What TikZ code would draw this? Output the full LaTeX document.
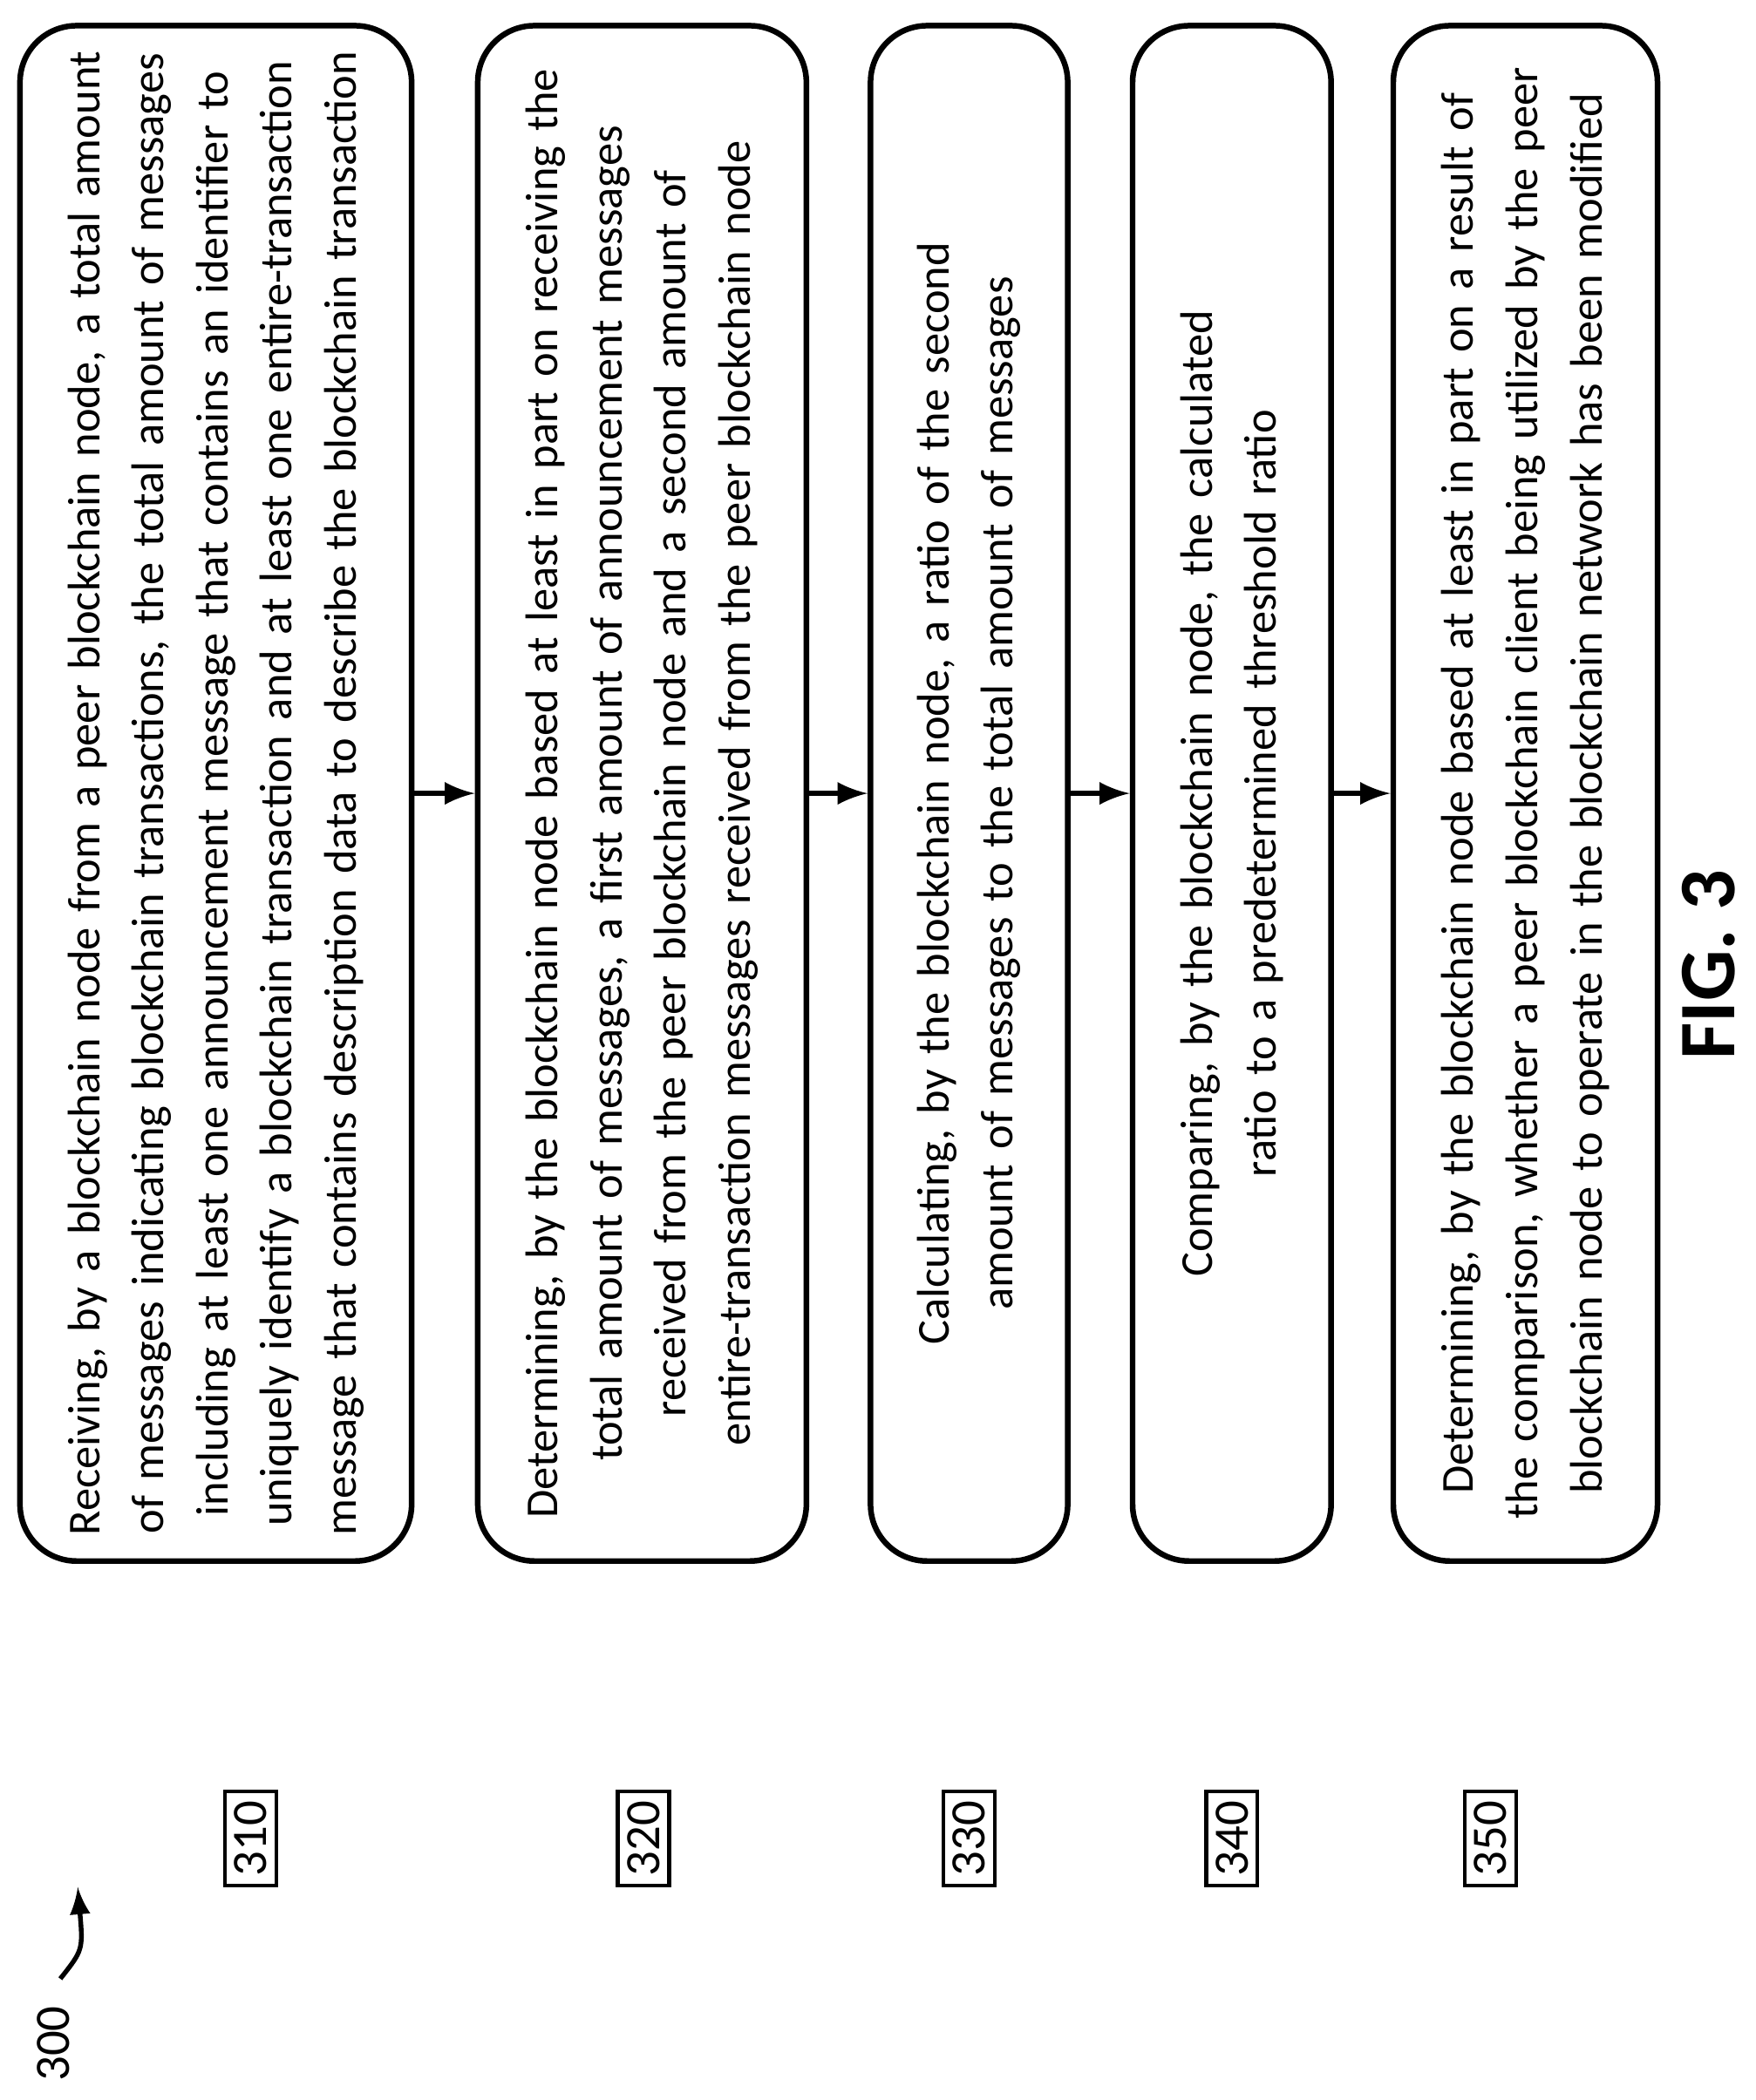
\documentclass[tikz,border=0pt]{standalone}
\usepackage{fontspec}
\setmainfont{Carlito}
\usetikzlibrary{positioning}
\hyphenpenalty=10000
\exhyphenpenalty=10000
\tikzset{
  stepbox/.style={draw, line width=1.2, rounded corners=12, rotate=90,
    minimum width=11.45cm, align=center, inner sep=2pt,
    font=\fontsize{9.7}{13.6}\selectfont},
  refbox/.style={draw, line width=0.8, rotate=90, inner sep=2pt,
    font=\fontsize{10.5}{13.6}\selectfont},
  flow/.style={line width=1.2, -latex}
}
\begin{document}
\begin{tikzpicture}[x=0.01cm,y=-0.01cm]
\useasboundingbox (0,0) rectangle (1310,1567);

\node[stepbox, minimum height=2.92cm, text width=11.1cm] (s310) at (161,592)
  {Receiving, by a blockchain node from a peer blockchain node, a total amount of messages indicating blockchain transactions, the total amount of messages including at least one announcement message that contains an identifier to uniquely identify a blockchain transaction and at least one entire-transaction message that contains description data to describe the blockchain transaction};
\node[stepbox, minimum height=2.45cm, text width=11.1cm] (s320) at (479,592)
  {Determining, by the blockchain node based at least in part on receiving the total amount of messages, a first amount of announcement messages received from the peer blockchain node and a second amount of entire-transaction messages received from the peer blockchain node};
\node[stepbox, minimum height=1.47cm, text width=11.1cm] (s330) at (723,592)
  {Calculating, by the blockchain node, a ratio of the second amount of messages to the total amount of messages};
\node[stepbox, minimum height=1.48cm, text width=11.1cm] (s340) at (919,592)
  {Comparing, by the blockchain node, the calculated ratio to a predetermined threshold ratio};
\node[stepbox, minimum height=1.97cm, text width=11.1cm] (s350) at (1138,592)
  {Determining, by the blockchain node based at least in part on a result of the comparison, whether a peer blockchain client being utilized by the peer blockchain node to operate in the blockchain network has been modified};

\draw[flow] (s310.south) -- (s320.north);
\draw[flow] (s320.south) -- (s330.north);
\draw[flow] (s330.south) -- (s340.north);
\draw[flow] (s340.south) -- (s350.north);

% reference numerals
\node[refbox] (r310) at (187,1372) {310};
\node[refbox] (r320) at (480,1372) {320};
\node[refbox] (r330) at (723,1372) {330};
\node[refbox] (r340) at (919,1372) {340};
\node[refbox] (r350) at (1112,1372) {350};

\node[rotate=90, font=\fontsize{10.5}{13.6}\selectfont] (n300) at (40,1525) {300};
\coordinate (a300) at (58,1408);
\draw[line width=1, -latex] (n300.east) ++(5,-8) .. controls (62,1455) .. (a300);

\node[rotate=90, font=\fontsize{17}{20}\selectfont\bfseries] (fig) at (1275,720) {FIG. 3};
\end{tikzpicture}
\end{document}
